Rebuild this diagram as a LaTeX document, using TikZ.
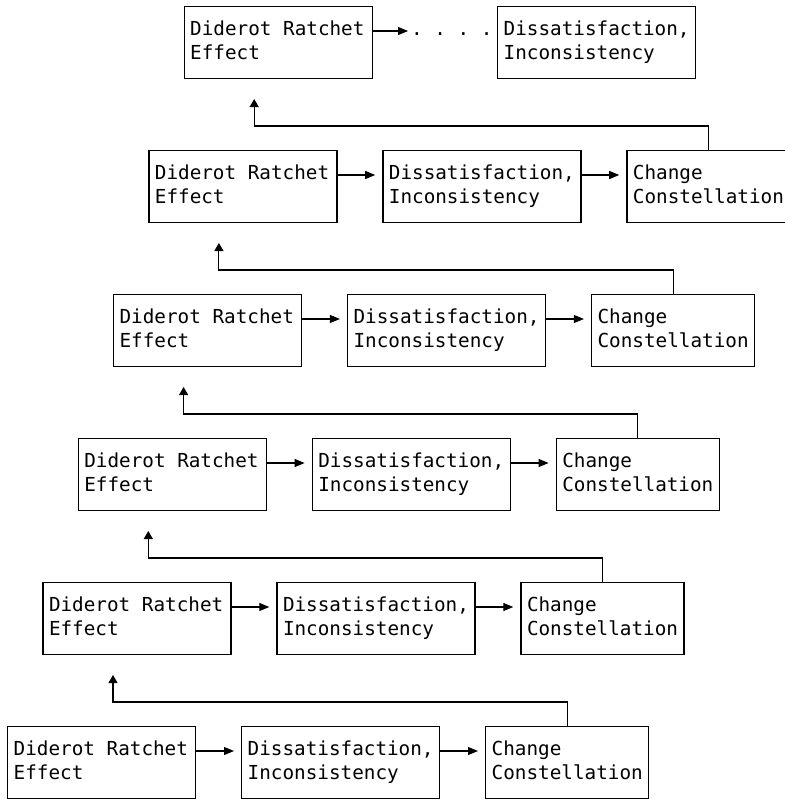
\documentclass[tikz,border=0pt]{standalone}
\usepackage{fontspec}
\setmonofont{DejaVu Sans Mono}
\usetikzlibrary{arrows.meta,calc}
\newcommand\wgap{\hspace{0.602em}}

\begin{document}
\begin{tikzpicture}[x=1pt,y=-1pt,
	box/.style={draw,line width=1.4pt,anchor=north west,inner xsep=6pt,inner ysep=0pt,
		minimum height=72pt,align=left,font=\ttfamily\fontsize{19.3}{23.5}\selectfont,
		execute at begin node=\strut,execute at end node=\strut},
	flow/.style={-{Triangle[length=10pt,width=8pt]},line width=1.1pt,shorten >=7pt},
	back/.style={-{Triangle[length=8pt,width=9pt]},line width=1.1pt}]
		\useasboundingbox (0,0) rectangle (784,800);
		% top row
		\node[box,text width=176pt] (a0) at (183.5,6) {Diderot\wgap Ratchet\\Effect};
		\node[box,text width=186pt] (b0) at (497,6) {Dissatisfaction,\\Inconsistency};
		\node[anchor=base west,inner sep=0pt,font=\ttfamily\fontsize{19.3}{23.5}\selectfont] (d0) at (411,36) {.\wgap.\wgap.\wgap.};
		\draw[flow,shorten >=3pt] ([yshift=-25pt]a0.north east) -- ([yshift=-25pt]a0.north east -| d0.west);
		% rows below
		\foreach \r in {1,...,5}{
		\pgfmathsetmacro\xo{7+(5-\r)*35.3}
		\pgfmathsetmacro\yo{726-(5-\r)*144}
		\node[box,text width=176pt] (a\r) at (\xo,\yo) {Diderot\wgap Ratchet\\Effect};
		\node[box,text width=186pt] (b\r) at (\xo+234,\yo) {Dissatisfaction,\\Inconsistency};
		\node[box,text width=151pt] (c\r) at (\xo+478,\yo) {Change\\Constellation};
		\draw[flow] ([yshift=-25pt]a\r.north east) -- ([yshift=-25pt]b\r.north west);
		\draw[flow] ([yshift=-25pt]b\r.north east) -- ([yshift=-25pt]c\r.north west);
		\coordinate (t\r) at (\xo+106,\yo-51);
		\draw[back] (c\r.north) -- ++(0,-24) -| (t\r);
		}
\end{tikzpicture}
\end{document}
